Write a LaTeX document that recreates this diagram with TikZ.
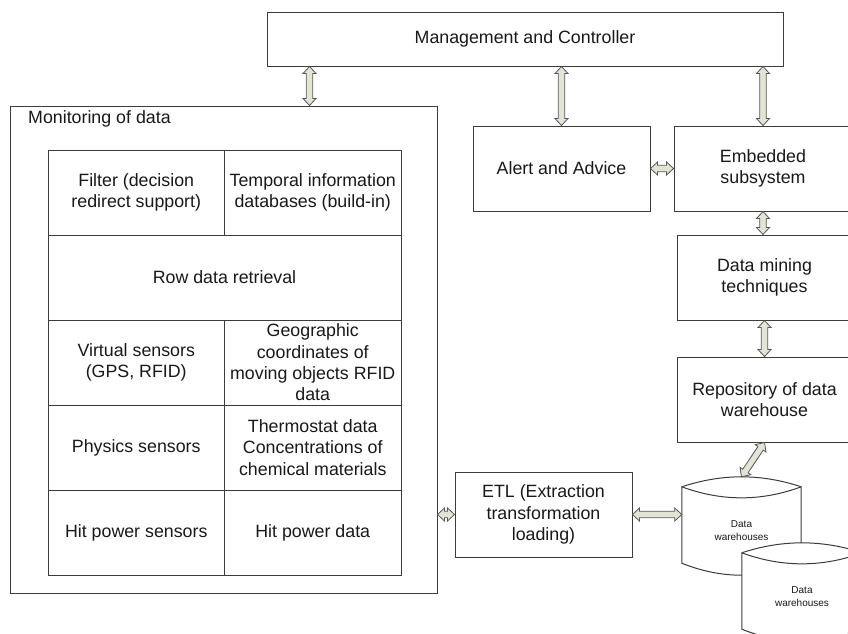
\documentclass[tikz,border=0pt]{standalone}
\usepackage{fontspec}
\setmainfont{Liberation Sans}
\usetikzlibrary{calc}

\definecolor{boxline}{RGB}{60,60,60}
\definecolor{arrowfill}{RGB}{226,228,212}
\definecolor{arrowline}{RGB}{85,85,85}
\definecolor{txt}{RGB}{25,25,25}

% double-headed block arrow between two points
\newcommand\blockarrow[2]{%
  \path (#1) coordinate (ba-a) (#2) coordinate (ba-b);
  \path ($(ba-a)!7pt!(ba-b)$) coordinate (ba-p) ($(ba-b)!7pt!(ba-a)$) coordinate (ba-q);
  \filldraw[blockarrow] (ba-a)
    -- ($(ba-p)!6.5pt!90:(ba-b)$) -- ($(ba-p)!3.2pt!90:(ba-b)$)
    -- ($(ba-q)!3.2pt!-90:(ba-a)$) -- ($(ba-q)!6.5pt!-90:(ba-a)$)
    -- (ba-b)
    -- ($(ba-q)!6.5pt!90:(ba-a)$) -- ($(ba-q)!3.2pt!90:(ba-a)$)
    -- ($(ba-p)!3.2pt!-90:(ba-b)$) -- ($(ba-p)!6.5pt!-90:(ba-b)$)
    -- cycle;}

% storage cylinder outline around a body node
\newcommand\cylout[1]{%
  \filldraw[cylline] (#1.north west) .. controls +(40,-13.3) and +(-40,-13.3) .. (#1.north east)
    -- (#1.south east) .. controls +(-40,16) and +(40,16) .. (#1.south west) -- cycle;
  \draw[cylline] (#1.north west) .. controls +(40,14.7) and +(-40,14.7) .. (#1.north east);}

\begin{document}
\begin{tikzpicture}[x=1pt,y=-1pt,
  every node/.style={font=\fontsize{17.8}{21.3}\selectfont, text=txt},
  box/.style={draw=boxline, line width=1pt, fill=white, align=center, inner sep=0pt},
  cell/.style={box, minimum width=176.5pt, minimum height=85pt},
  widecell/.style={box, minimum width=353pt, minimum height=85pt},
  stage/.style={box, minimum height=85pt},
  blockarrow/.style={fill=arrowfill, draw=arrowline, line width=0.8pt, line join=miter},
  cylbody/.style={minimum width=#1, minimum height=76pt, inner sep=0pt},
  cylline/.style={draw=boxline, fill=white, line width=1pt},
  cyltext/.style={font=\fontsize{10}{12.5}\selectfont, align=center, inner sep=0pt}]

\useasboundingbox (0,0) rectangle (848,633);
\clip (0,0) rectangle (848,633);

% top controller
\node[box, minimum width=516pt, minimum height=54pt] (top) at (525,39) {Management and Controller};

% monitoring block with its table
\node[box, minimum width=427pt, minimum height=487pt] (mon) at (223.5,349.5) {};
\node[anchor=west, inner sep=0pt] (monlabel) at (28,119) {Monitoring of data};

\node[cell] (filter)   at (136.25,192.5) {Filter (decision\\redirect support)};
\node[cell] (temporal) at (312.75,192.5) {Temporal information\\databases (build-in)};
\node[widecell] (row)  at (224.5,277.5)  {Row data retrieval};
\node[cell] (virtual)  at (136.25,362.5) {Virtual sensors\\(GPS, RFID)};
\node[cell] (geo)      at (312.75,362.5) {Geographic\\coordinates of\\moving objects RFID\\data};
\node[cell] (phys)     at (136.25,447.5) {Physics sensors};
\node[cell] (thermo)   at (312.75,447.5) {Thermostat data\\Concentrations of\\chemical materials};
\node[cell] (hit)      at (136.25,532.5) {Hit power sensors};
\node[cell] (hitdata)  at (312.75,532.5) {Hit power data};

% processing chain
\node[stage, minimum width=177pt] (alert) at (561.5,168.5) {Alert and Advice};
\node[stage, minimum width=178pt] (emb)   at (763,168.5)   {Embedded\\subsystem};
\node[stage, minimum width=175pt] (dm)    at (764.5,277.5) {Data mining\\techniques};
\node[stage, minimum width=175pt] (repo)  at (764.5,399.5) {Repository of data\\warehouse};
\node[stage, minimum width=177pt] (etl)   at (543.5,514.5) {ETL (Extraction\\transformation\\loading)};

% data warehouse cylinders
\path node[cylbody=119pt] (cyl1) at (741.5,525) {};
\cylout{cyl1}
\node[cyltext] (cyl1text) at ($(cyl1.center)+(0,5.5)$) {Data\\warehouses};

\path node[cylbody=120pt] (cyl2) at (802,591) {};
\cylout{cyl2}
\node[cyltext] (cyl2text) at ($(cyl2.center)+(0,5.5)$) {Data\\warehouses};

% connectors
\path ($(mon.north west)!.701!(mon.north east)$) coordinate (monport);
\coordinate (cyl1top) at ($(cyl1.north)+(0,-10)$);

\blockarrow{top.south -| monport}{monport}
\blockarrow{top.south -| alert.north}{alert.north}
\blockarrow{top.south -| emb.north}{emb.north}
\blockarrow{alert.east}{emb.west}
\blockarrow{emb.south}{emb.south |- dm.north}
\blockarrow{dm.south}{repo.north}
\blockarrow{repo.south}{cyl1top}
\blockarrow{mon.east |- etl.west}{etl.west}
\blockarrow{etl.east}{etl.east -| cyl1.west}

\end{tikzpicture}
\end{document}
